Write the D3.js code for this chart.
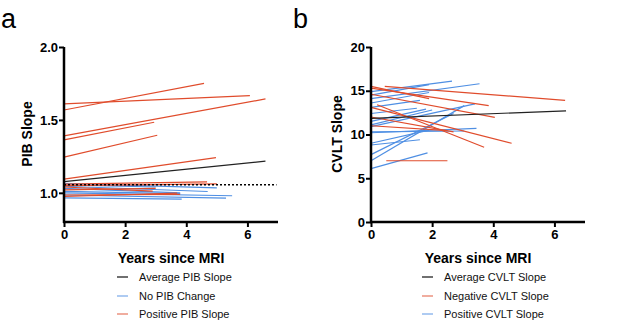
<!DOCTYPE html>
<html>
<head>
<meta charset="utf-8">
<script src="https://cdn.jsdelivr.net/npm/d3@7"></script>
<style>
  body { margin: 0; background: #fff; }
  svg { display: block; font-family: "Liberation Sans", Arial, sans-serif; }
  .axis text { font-weight: 700; font-size: 13px; fill: #000; font-family: "Liberation Sans", Arial, sans-serif; }
</style>
</head>
<body>
<div id="chart"></div>
<script>
// values, each segment = [x0, y0, x1, y1]
const xTicks = [0, 2, 4, 6];
const pibTicks = [1.0, 1.5, 2.0];
const cvltTicks = [0, 5, 10, 15, 20];

const pibPositive = [
    [0, 1.568, 4.58, 1.751],
    [0, 1.610, 6.08, 1.666],
    [0, 1.390, 6.59, 1.644],
    [0, 1.363, 2.95, 1.484],
    [0, 1.245, 3.05, 1.395],
    [0, 1.094, 4.97, 1.242],
    [0, 1.060, 4.68, 1.075],
    [0, 1.050, 5.00, 1.062],
    [0, 1.040, 2.90, 1.012],
    [0, 1.020, 3.00, 1.030],
    [0, 0.975, 3.70, 0.998],
    [0, 0.985, 3.80, 0.990]
];
const pibNoChange = [
    [0, 1.065, 5.00, 1.034],
    [0, 1.045, 4.70, 1.009],
    [0, 1.030, 3.80, 1.000],
    [0, 1.055, 3.00, 1.040],
    [0, 1.010, 3.80, 0.995],
    [0, 1.000, 5.50, 0.980],
    [0, 0.985, 5.30, 0.964],
    [0, 0.965, 3.85, 0.957]
];
const pibAverage = [[0, 1.077, 6.59, 1.217]];
const pibReference = 1.055;

const cvltNegative = [
    [0.45, 15.5, 6.35, 13.9],
    [0, 15.5, 1.9, 14.1],
    [0, 15.3, 3.85, 13.3],
    [0, 14.6, 4.05, 11.95],
    [0, 13.1, 4.6, 9.0],
    [0.2, 13.4, 3.7, 8.55],
    [0, 12.0, 2.7, 10.3],
    [0, 11.0, 2.5, 10.45],
    [0.5, 7.0, 2.5, 7.0]
];
const cvltPositive = [
    [0, 14.9, 2.65, 16.1],
    [0, 14.1, 3.55, 15.8],
    [0, 14.5, 1.9, 15.7],
    [0, 13.6, 1.9, 14.8],
    [0, 13.1, 1.6, 13.9],
    [0, 12.4, 1.5, 13.0],
    [0, 11.5, 1.8, 12.9],
    [0, 11.1, 2.0, 12.8],
    [0, 10.9, 3.4, 13.5],
    [0, 10.3, 3.05, 10.4],
    [0, 10.2, 3.45, 10.7],
    [0, 9.0, 1.9, 10.5],
    [0, 8.8, 1.6, 9.4],
    [0, 7.0, 3.05, 13.3],
    [0, 7.7, 2.7, 12.4],
    [0, 6.1, 1.85, 7.9]
];
const cvltAverage = [[0, 11.85, 6.38, 12.7]];

const pibLegend = ["Average PIB Slope", "No PIB Change", "Positive PIB Slope"];
const cvltLegend = ["Average CVLT Slope", "Negative CVLT Slope", "Positive CVLT Slope"];

const red = "#e04c2c", blue = "#4f8fe3", black = "#222";

const width = 617, height = 334;
const svg = d3.select("#chart").append("svg")
    .attr("width", width)
    .attr("height", height);

function drawPanel(p) {
    const g = svg.append("g");
    const x = d3.scaleLinear().domain([0, 7]).range([p.left, p.left + 214]);
    const y = d3.scaleLinear().domain(p.yDomain).range([222, 47]);

    // panel letter
    g.append("text")
        .attr("x", p.letterX).attr("y", 28)
        .style("font-size", "27px")
        .text(p.letter);

    const groups = [
        { segs: p.first, color: p.firstColor },
        { segs: p.second, color: p.secondColor },
        { segs: p.avg, color: black }
    ];
    groups.forEach(grp => {
        g.selectAll(null)
            .data(grp.segs)
            .enter()
            .append("line")
            .attr("x1", d => x(d[0])).attr("y1", d => y(d[1]))
            .attr("x2", d => x(d[2])).attr("y2", d => y(d[3]))
            .attr("stroke", grp.color)
            .attr("stroke-width", 1.2);
    });

    if (p.reference !== undefined) {
        g.append("line")
            .attr("x1", x(0)).attr("x2", x(6.95))
            .attr("y1", y(p.reference)).attr("y2", y(p.reference))
            .attr("stroke", "#000")
            .attr("stroke-width", 1.6)
            .attr("stroke-dasharray", "2,2");
    }

    const xAxis = g.append("g")
        .attr("class", "axis")
        .attr("transform", `translate(0,222)`)
        .call(d3.axisBottom(x).tickValues(xTicks).tickSize(5).tickPadding(3).tickFormat(d3.format("d")));
    const yAxis = g.append("g")
        .attr("class", "axis")
        .attr("transform", `translate(${p.left},0)`)
        .call(d3.axisLeft(y).tickValues(p.yTicks).tickSize(5).tickPadding(1).tickFormat(p.yFormat));

    [xAxis, yAxis].forEach(ax => {
        ax.attr("font-family", null).attr("font-size", null);
        ax.select(".domain").attr("stroke", "#000").attr("stroke-width", 2.5);
        ax.selectAll(".tick line").attr("stroke", "#000").attr("stroke-width", 2);
    });
    xAxis.select(".domain").attr("d", `M${p.left - 1},0H${x(7)}`);
    yAxis.select(".domain").attr("d", `M0,${y.range()[1]}V${223}`);

    g.append("text")
        .attr("x", x(3.5)).attr("y", 263)
        .attr("text-anchor", "middle")
        .style("font-size", "14px")
        .style("font-weight", "bold")
        .text("Years since MRI");

    g.append("text")
        .attr("transform", `translate(${p.titleX},134) rotate(-90)`)
        .attr("text-anchor", "middle")
        .style("font-size", "14px")
        .style("font-weight", "bold")
        .text(p.yTitle);

    // legend
    const rows = [277, 296, 314];
    const colors = [black, p.legendColors[0], p.legendColors[1]];
    p.legend.forEach((label, i) => {
        g.append("line")
            .attr("x1", p.legendX).attr("x2", p.legendX + 11)
            .attr("y1", rows[i]).attr("y2", rows[i])
            .attr("stroke", colors[i])
            .attr("stroke-opacity", i === 0 ? 1 : 0.7)
            .attr("stroke-width", 1.3);
        g.append("text")
            .attr("x", p.legendX + 22).attr("y", rows[i])
            .attr("dy", "0.35em")
            .style("font-size", "11px")
            .attr("fill", "#111")
            .text(label);
    });
}

drawPanel({
    letter: "a", letterX: 1, left: 64,
    yDomain: [0.8, 2.0], yTicks: pibTicks, yFormat: d3.format(".1f"),
    yTitle: "PIB Slope", titleX: 32,
    first: pibNoChange, firstColor: blue,
    second: pibPositive, secondColor: red,
    avg: pibAverage, reference: pibReference,
    legend: pibLegend, legendColors: [blue, red], legendX: 117
});

drawPanel({
    letter: "b", letterX: 293, left: 371,
    yDomain: [0, 20], yTicks: cvltTicks, yFormat: d3.format("d"),
    yTitle: "CVLT Slope", titleX: 342,
    first: cvltPositive, firstColor: blue,
    second: cvltNegative, secondColor: red,
    avg: cvltAverage,
    legend: cvltLegend, legendColors: [red, blue], legendX: 422
});
</script>
</body>
</html>
